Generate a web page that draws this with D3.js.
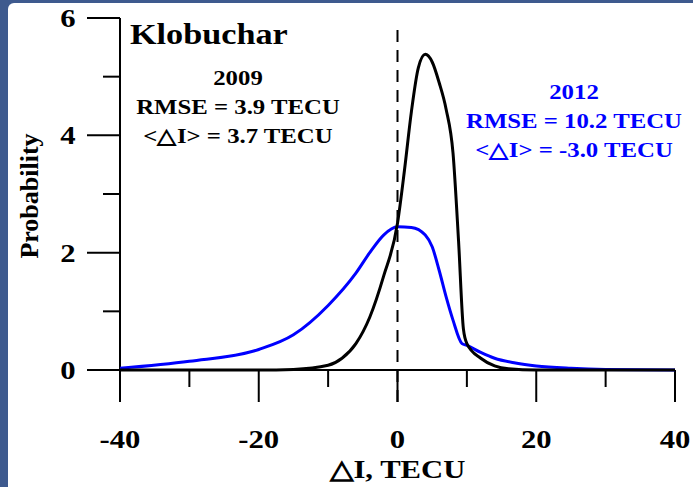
<!DOCTYPE html><html><head><script src="https://cdn.jsdelivr.net/npm/d3@7"></script>
<style>body{margin:0;background:#fff}svg{display:block}text{font-family:"Liberation Serif","Times New Roman",serif;font-weight:bold}</style></head><body>
<svg id="c" width="693" height="487"></svg>
<script>
const xTicks=[-40,-20,0,20,40];
const yTicks=[0,2,4,6];
const d2009x=[-40,-20,-15,-10,-8,-6,-4,-2,0,1,2,3,4,5,6,7,8,8.8,9.5,10,12,14,16,20,40];
const d2009y=[0,0,0.01,0.08,0.2,0.45,0.9,1.6,2.5,3.4,4.4,5.15,5.38,5.25,4.9,4.45,3.7,2.2,0.7,0.45,0.2,0.07,0.02,0,0];
const d2012x=[-40,-30,-20,-15,-10,-6,-4,-2,0,2,4,5,6,7,8,9.3,10,12,14,17,20,25,30,40];
const d2012y=[0.03,0.15,0.35,0.6,1.1,1.65,2.0,2.3,2.44,2.43,2.3,2.1,1.7,1.25,0.85,0.45,0.42,0.3,0.2,0.12,0.07,0.03,0.01,0];
const svg=d3.select("#c");
svg.append("rect").attr("width",693).attr("height",487).attr("fill","#3e5a8e");
svg.append("rect").attr("x",8).attr("y",3).attr("width",700).attr("height",500).attr("rx",6).attr("fill","#fff");
const x=d3.scaleLinear().domain([-40,40]).range([120,675]);
const y=d3.scaleLinear().domain([0,6]).range([370,18]);
const g=svg.append("g");
function T(px,py,s,txt,anchor,fill){return g.append("text").attr("transform",`translate(${px},${py}) scale(1.18,1)`).attr("text-anchor",anchor||"middle").attr("font-size",s).attr("fill",fill||"#000").text(txt);}
g.append("line").attr("x1",120).attr("x2",120).attr("y1",y(6)).attr("y2",402).attr("stroke","#000").attr("stroke-width",2);
d3.range(0,7).forEach(v=>{g.append("line").attr("x1",v%2?103:87).attr("x2",120).attr("y1",y(v)).attr("y2",y(v)).attr("stroke","#000").attr("stroke-width",2);});
yTicks.forEach(v=>T(68,y(v)+9,26,v));
g.append("line").attr("x1",87).attr("x2",x(40)).attr("y1",y(0)).attr("y2",y(0)).attr("stroke","#000").attr("stroke-width",2);
d3.range(-40,41,10).forEach(v=>{g.append("line").attr("x1",x(v)).attr("x2",x(v)).attr("y1",y(0)).attr("y2",v%20?387:402).attr("stroke","#000").attr("stroke-width",2);});
xTicks.forEach(v=>T(x(v),448,26,v));
T(x(0),478,26,"△I, TECU");
g.append("text").attr("transform","translate(38,196) rotate(-90)").attr("text-anchor","middle").attr("font-size",26).text("Probability");
g.append("line").attr("x1",x(0)).attr("x2",x(0)).attr("y1",30).attr("y2",402).attr("stroke","#000").attr("stroke-width",2).attr("stroke-dasharray","12,8");
const line=d3.line().x(d=>x(d[0])).y(d=>y(d[1])).curve(d3.curveMonotoneX);
g.append("path").attr("d",line(d2012x.map((v,i)=>[v,d2012y[i]]))).attr("fill","none").attr("stroke","#0000ff").attr("stroke-width",3);
g.append("path").attr("d",line(d2009x.map((v,i)=>[v,d2009y[i]]))).attr("fill","none").attr("stroke","#000").attr("stroke-width",3);
T(130,44,29,"Klobuchar","start");
[["2009",85],["RMSE = 3.9 TECU",114],["<△I> = 3.7 TECU",143]].forEach(t=>T(238,t[1],21,t[0]));
[["2012",99],["RMSE = 10.2 TECU",128],["<△I> = -3.0 TECU",157]].forEach(t=>T(574,t[1],21,t[0],"middle","#0000ff"));
</script></body></html>
